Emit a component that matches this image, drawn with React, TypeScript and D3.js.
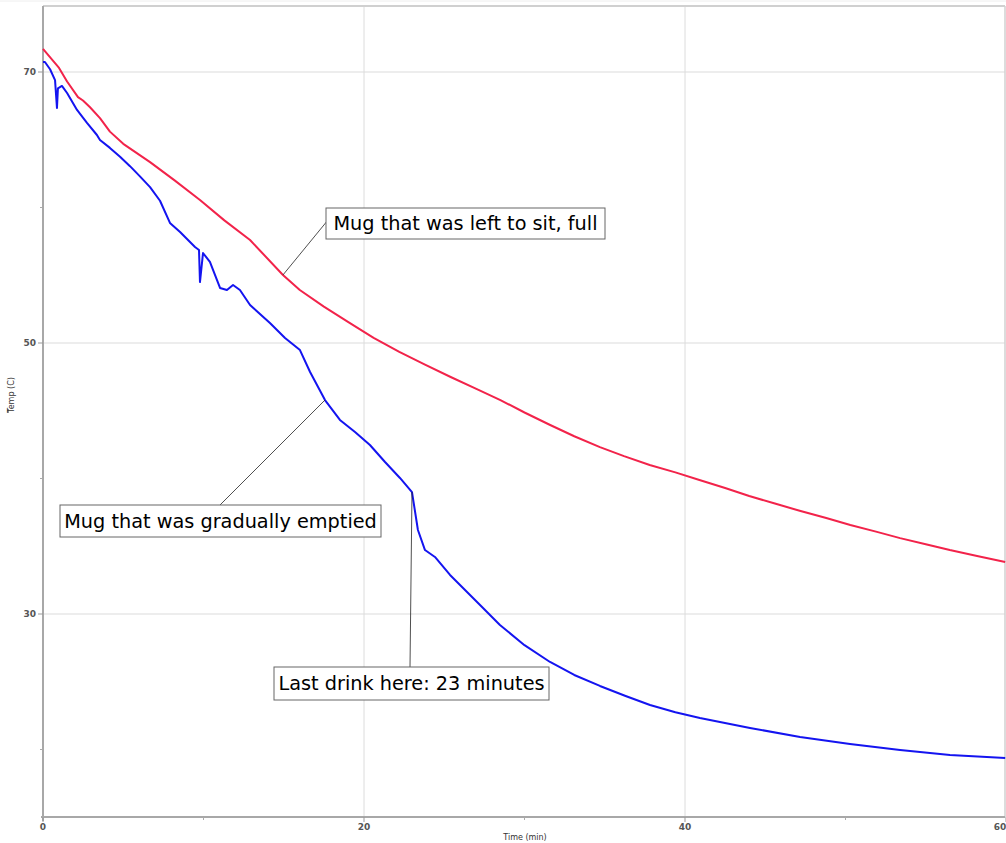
import React from "react";
import * as d3 from "d3";

const fullTime = [0, 0.5, 1.0, 1.5, 2.18, 2.49, 2.93, 3.55, 4.17, 5.0, 6.67, 8.2, 9.78, 11.3, 12.9, 14.95, 16.0, 17.5, 19.1, 20.6, 22.2, 23.8, 25.4, 27.0, 28.5, 30.0, 31.6, 33.1, 34.7, 36.2, 37.8, 39.4, 40.9, 42.5, 44.0, 45.6, 47.2, 48.8, 50.3, 51.9, 53.4, 55.0, 56.5, 58.2, 59.95];
const fullTemp = [71.7, 71.0, 70.3, 69.3, 68.15, 67.9, 67.4, 66.6, 65.6, 64.7, 63.35, 62.0, 60.55, 59.05, 57.6, 55.02, 53.91, 52.68, 51.48, 50.38, 49.34, 48.4, 47.49, 46.62, 45.79, 44.87, 43.95, 43.12, 42.32, 41.65, 41.0, 40.45, 39.89, 39.3, 38.71, 38.15, 37.6, 37.08, 36.57, 36.08, 35.6, 35.15, 34.72, 34.28, 33.84];

const emptiedTime = [0, 0.12, 0.44, 0.75, 0.87, 0.93, 1.18, 1.5, 2.12, 2.74, 3.36, 3.55, 4.17, 4.8, 5.42, 6.04, 6.67, 7.29, 7.91, 8.54, 9.47, 9.72, 9.78, 9.97, 10.4, 11.03, 11.46, 11.84, 12.27, 12.9, 14.14, 15.08, 16.01, 16.64, 17.57, 18.5, 19.44, 20.37, 21.31, 22.24, 22.99, 23.36, 23.8, 24.42, 25.36, 27.23, 28.47, 30.0, 31.59, 33.1, 34.7, 36.3, 37.82, 39.4, 40.93, 44.05, 47.17, 50.28, 53.4, 56.51, 59.95];
const emptiedTemp = [70.74, 70.74, 70.2, 69.4, 67.34, 68.8, 68.97, 68.45, 67.2, 66.24, 65.35, 64.98, 64.4, 63.75, 63.05, 62.3, 61.5, 60.5, 58.86, 58.19, 57.08, 56.86, 54.5, 56.64, 55.98, 54.06, 53.91, 54.28, 53.91, 52.8, 51.48, 50.37, 49.48, 47.86, 45.79, 44.32, 43.43, 42.47, 41.22, 40.04, 39.0, 36.2, 34.72, 34.21, 32.88, 30.66, 29.19, 27.7, 26.46, 25.5, 24.69, 23.95, 23.28, 22.75, 22.32, 21.59, 20.92, 20.41, 19.96, 19.59, 19.37];

const xMajorTicks = [0, 20, 40, 60];
const xMinorTicks = [10, 30, 50];
const yMajorTicks = [30, 50, 70];
const yMinorTicks = [20, 40, 60];

const annotationTexts = ["Mug that was left to sit, full", "Mug that was gradually emptied", "Last drink here: 23 minutes"];
const annotationAnchorT = [14.95, 17.57, 22.99];
const annotationAnchorV = [55.02, 45.79, 39.0];

export default function App() {
  const W = 1006, H = 843;
  const left = 43, right = 1005, top = 6, bottom = 817;
  const x = d3.scaleLinear().domain([0, 40]).range([43, 685]);
  const y = d3.scaleLinear().domain([30, 70]).range([614, 72]);

  const line = d3.line<[number, number]>().x(d => x(d[0])).y(d => y(d[1]));
  const fullPts = fullTime.map((t, i) => [t, fullTemp[i]] as [number, number]);
  const empPts = emptiedTime.map((t, i) => [t, emptiedTemp[i]] as [number, number]);

  const boxes = [
    { bx: 326, by: 208, bw: 279, bh: 31, lx: 328, ly: 220 },
    { bx: 60, by: 505, bw: 321, bh: 32, lx: 220, ly: 505 },
    { bx: 274, by: 667, bw: 275, bh: 33, lx: 410, ly: 667 },
  ];

  const font = "'DejaVu Sans', sans-serif";

  return (
    <svg width={W} height={H} style={{ position: "absolute", left: 0, top: 0, background: "#fff" }}>
      <rect x={0} y={0} width={W} height={H} fill="#fff" />
      <line x1={0} x2={W} y1={1} y2={1} stroke="#eee" strokeWidth={1} />
      {xMajorTicks.filter(t => t > 0 && t < 60).map(t => (
        <line key={"gx" + t} x1={x(t)} x2={x(t)} y1={top} y2={bottom} stroke="#dcdcdc" strokeWidth={1} />
      ))}
      {yMajorTicks.map(t => (
        <line key={"gy" + t} x1={left} x2={right} y1={y(t)} y2={y(t)} stroke="#dcdcdc" strokeWidth={1.2} />
      ))}
      <line x1={left} x2={right} y1={top} y2={top} stroke="#d0d0d0" strokeWidth={2} />
      <line x1={right} x2={right} y1={top} y2={bottom} stroke="#d0d0d0" strokeWidth={1.5} />
      <line x1={left} x2={left} y1={top} y2={bottom + 4} stroke="#a8a8a8" strokeWidth={2} />
      <line x1={left - 2} x2={right} y1={bottom} y2={bottom} stroke="#a8a8a8" strokeWidth={2} />
      {yMajorTicks.map(t => (
        <g key={"ty" + t}>
          <line x1={left - 5} x2={left} y1={y(t)} y2={y(t)} stroke="#999" strokeWidth={1} />
          <text x={left - 7} y={y(t) + 3} fontSize={9} fontWeight="bold" fill="#555" textAnchor="end" fontFamily={font}>{t}</text>
        </g>
      ))}
      {yMinorTicks.map(t => (
        <line key={"my" + t} x1={left - 3} x2={left} y1={y(t)} y2={y(t)} stroke="#aaa" strokeWidth={1} />
      ))}
      {xMajorTicks.map(t => (
        <g key={"tx" + t}>
          <line x1={x(t)} x2={x(t)} y1={bottom} y2={bottom + 5} stroke="#999" strokeWidth={1} />
          <text x={Math.min(x(t), 1000)} y={bottom + 13} fontSize={9} fontWeight="bold" fill="#555" textAnchor="middle" fontFamily={font}>{t}</text>
        </g>
      ))}
      {xMinorTicks.map(t => (
        <line key={"mx" + t} x1={x(t)} x2={x(t)} y1={bottom} y2={bottom + 3} stroke="#aaa" strokeWidth={1} />
      ))}
      <text x={525} y={840} fontSize={8} fill="#333" textAnchor="middle" fontFamily={font}>Time (min)</text>
      <text transform="translate(14,395) rotate(-90)" fontSize={8} fill="#333" textAnchor="middle" fontFamily={font}>Temp (C)</text>
      <line x1={8} x2={8} y1={409} y2={413} stroke="#333" strokeWidth={1} />
      <path d={line(fullPts) || ""} fill="none" stroke="#f2234a" strokeWidth={2} strokeLinejoin="round" />
      <path d={line(empPts) || ""} fill="none" stroke="#1414f0" strokeWidth={2} strokeLinejoin="round" />
      {boxes.map((b, i) => (
        <g key={"an" + i}>
          <line x1={x(annotationAnchorT[i])} y1={y(annotationAnchorV[i])} x2={b.lx} y2={b.ly} stroke="#222" strokeWidth={0.8} />
          <rect x={b.bx} y={b.by} width={b.bw} height={b.bh} fill="#fff" stroke="#666" strokeWidth={1} />
          <text x={b.bx + b.bw / 2} y={b.by + b.bh / 2 + 6.8} fontSize={19.3} fill="#000" textAnchor="middle" fontFamily={font}>{annotationTexts[i]}</text>
        </g>
      ))}
    </svg>
  );
}
